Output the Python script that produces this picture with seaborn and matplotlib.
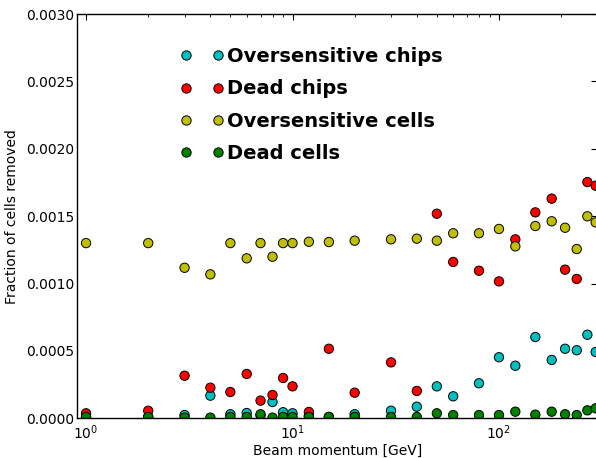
import matplotlib
matplotlib.use("Agg")
import matplotlib.pyplot as plt
import matplotlib.ticker as mticker
import numpy as np
import pandas as pd
import seaborn as sns

# Beam momentum of each run [GeV]
momentum = [1, 2, 3, 4, 5, 6, 7, 8, 9, 10, 12, 15, 20, 30, 40, 50, 60, 80,
            100, 120, 150, 180, 209, 238, 268, 294]

# Fraction of cells removed by each cleaning criterion
oversensitive_chips = [0.00001, 0.00001, 0.000024, 0.000168, 0.00003, 0.000039,
                       0.00002, 0.000121, 0.000045, 0.000037, 0.00002, 0.00001,
                       0.00003, 0.000056, 0.000086, 0.000237, 0.000163, 0.00026,
                       0.000453, 0.00039, 0.000603, 0.000433, 0.000516, 0.000505,
                       0.00062, 0.000492]
dead_chips = [0.000037, 0.000056, 0.000316, 0.000227, 0.000195, 0.000329,
              0.000131, 0.000173, 0.000299, 0.000237, 0.000047, 0.000516,
              0.00019, 0.000415, 0.000203, 0.001518, 0.00116, 0.001095,
              0.001016, 0.001328, 0.001528, 0.00163, 0.001103, 0.001034,
              0.001753, 0.001726]
oversensitive_cells = [0.0013, 0.0013, 0.001117, 0.001068, 0.0013, 0.001187,
                       0.0013, 0.001199, 0.0013, 0.0013, 0.00131, 0.001308,
                       0.001318, 0.001328, 0.001333, 0.001318, 0.001373,
                       0.001373, 0.001405, 0.001276, 0.001427, 0.001462,
                       0.001414, 0.001256, 0.001499, 0.001454]
dead_cells = [0.00001, 0.00001, 0.000005, 0.000005, 0.00001, 0.00001, 0.00003,
              0.000005, 0.00001, 0.00001, 0.00001, 0.00001, 0.00001, 0.00001,
              0.00001, 0.000037, 0.000024, 0.000024, 0.000024, 0.000049,
              0.000027, 0.000049, 0.00003, 0.000024, 0.000059, 0.000074]

series_names = ["Oversensitive chips", "Dead chips",
                "Oversensitive cells", "Dead cells"]
series_values = [oversensitive_chips, dead_chips, oversensitive_cells, dead_cells]
series_colors = [(0, 0.75, 0.75), (1, 0, 0), (0.75, 0.75, 0), (0, 0.5, 0)]

df = pd.concat(
    [pd.DataFrame({"momentum": momentum, "fraction": vals, "series": name})
     for name, vals in zip(series_names, series_values)],
    ignore_index=True,
)

sns.set_style("white")
plt.rcParams["font.family"] = ["DejaVu Sans"]
plt.rcParams.update({
    "xtick.direction": "in", "ytick.direction": "in",
    "xtick.top": True, "ytick.right": True,
    "xtick.major.size": 4, "ytick.major.size": 4,
    "xtick.minor.size": 2, "ytick.minor.size": 2,
    "xtick.major.width": 0.8, "ytick.major.width": 0.8,
    "xtick.minor.width": 0.6,
    "axes.linewidth": 1.0,
    "axes.edgecolor": "black",
    "text.color": "black",
    "axes.labelcolor": "black",
    "xtick.color": "black", "ytick.color": "black",
    "xtick.labelcolor": "black", "ytick.labelcolor": "black",
    "font.size": 10,
})

fig = plt.figure(figsize=(5.96, 4.58), dpi=100)
ax = fig.add_axes([0.1297, 0.0867, 0.8728, 0.8827])

sns.scatterplot(data=df, x="momentum", y="fraction", hue="series",
                hue_order=series_names, palette=series_colors,
                s=45, edgecolor="black", linewidth=0.7, ax=ax, legend=True)

ax.set_xscale("log")
ax.set_xlim(0.907, 300)
ax.set_ylim(0, 0.003)
ax.yaxis.set_major_locator(mticker.MultipleLocator(0.0005))
ax.yaxis.set_major_formatter(mticker.FormatStrFormatter("%.4f"))
ax.xaxis.set_minor_locator(mticker.LogLocator(base=10, subs=np.arange(2, 10)))
ax.tick_params(which="both", top=True, right=True, direction="in")
ax.tick_params(axis="x", labelsize=10, pad=4)
ax.tick_params(axis="y", labelsize=10, pad=2)

ax.set_xlabel("Beam momentum [GeV]", fontsize=10, labelpad=1)
ax.set_ylabel("Fraction of cells removed", fontsize=10, labelpad=5)

handles, labels = ax.get_legend_handles_labels()
leg = ax.legend(handles, labels, numpoints=2, scatterpoints=2, frameon=False,
                loc="upper left", bbox_to_anchor=(0.198, 0.918),
                borderpad=0, borderaxespad=0, handlelength=2.25,
                handletextpad=0.17, labelspacing=0.68, markerscale=1.0,
                prop={"weight": "bold", "size": 14})
for txt in leg.get_texts():
    txt.set_color("black")

fig.savefig("out.png", dpi=100)
